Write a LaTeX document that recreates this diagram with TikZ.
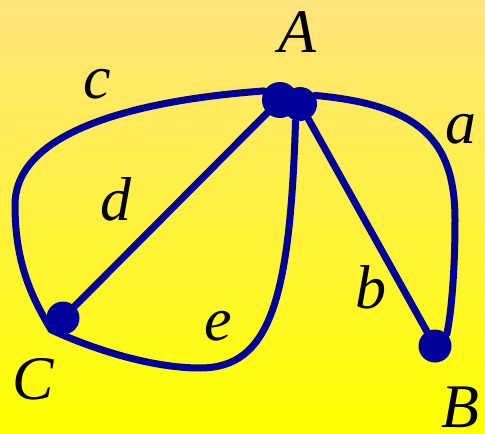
\documentclass[tikz,border=0pt]{standalone}
\usepackage{fontspec}
\setmainfont{Liberation Serif}
\usetikzlibrary{positioning}

\definecolor{edgeblue}{RGB}{0,0,155}
\definecolor{bgtop}{RGB}{255,228,125}
\definecolor{bgbot}{RGB}{255,255,0}

\begin{document}
\begin{tikzpicture}[
    x=1pt, y=-1pt,
    every node/.style={font=\fontsize{62}{62}\selectfont\itshape},
    vertex/.style={circle, fill=edgeblue, inner sep=0pt, minimum size=33pt},
    edge/.style={draw=edgeblue, line width=7pt, line cap=round},
    lbl/.style={anchor=base, inner sep=0pt}
]
\useasboundingbox (0,0) rectangle (485,434);
\shade[top color=bgtop, bottom color=bgbot] (0,0) rectangle (485,434);

% vertices
\node[vertex, minimum size=36pt] (A1) at (280,100) {};
\node[vertex, minimum size=34pt] (A2) at (300,104) {};
\node[vertex] (C) at (63,318) {};
\node[vertex] (B) at (435,346) {};

% edges
\draw[edge] (A1.150) .. controls (140,100) and (15,130) .. (15,205)
    .. controls (15,260) and (30,295) .. (C.225);
\draw[edge] (A2.30) .. controls (420,105) and (455,140) .. (455,220)
    .. controls (455,280) and (450,320) .. (B.45);
\draw[edge] (A1) -- (C);
\draw[edge] (A2) -- (B);
\draw[edge] (A2.255) .. controls (290,300) and (270,368) .. (200,368)
    .. controls (150,368) and (90,348) .. (C.225);

% labels
\node[lbl] (la) at (461,143) {a};
\node[lbl] (lb) at (371,308) {b};
\node[lbl] (lc) at (97,98) {c};
\node[lbl] (ld) at (116,220) {d};
\node[lbl] (le) at (218,340) {e};
\node[lbl] (lA) at (297,52) {A};
\node[lbl] (lB) at (460,427) {B};
\node[lbl] (lC) at (33,399) {C};
\end{tikzpicture}
\end{document}
